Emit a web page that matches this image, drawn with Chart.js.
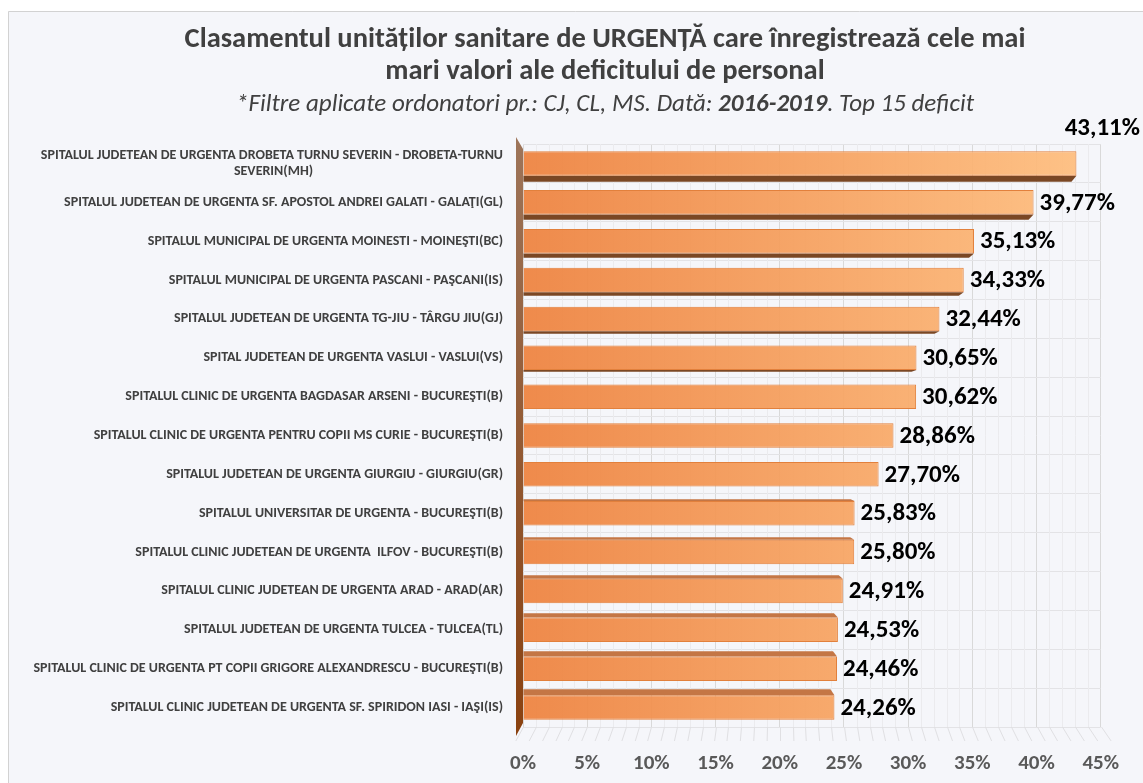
<!DOCTYPE html>
<html>
<head>
<meta charset="utf-8">
<script src="https://cdn.jsdelivr.net/npm/chart.js@4/dist/chart.umd.min.js"></script>
<style>
  html, body { margin: 0; padding: 0; background: #fff; overflow: hidden; }
  canvas { display: block; }
</style>
</head>
<body>
<canvas id="chart" width="1143" height="783"></canvas>
<script>
const hospitals = [
  ["SPITALUL JUDETEAN DE URGENTA DROBETA TURNU SEVERIN - DROBETA-TURNU", "SEVERIN(MH)"],
  "SPITALUL JUDETEAN DE URGENTA SF. APOSTOL ANDREI GALATI - GALAŢI(GL)",
  "SPITALUL MUNICIPAL DE URGENTA MOINESTI - MOINEŞTI(BC)",
  "SPITALUL MUNICIPAL DE URGENTA PASCANI - PAŞCANI(IS)",
  "SPITALUL JUDETEAN DE URGENTA TG-JIU - TÂRGU JIU(GJ)",
  "SPITAL JUDETEAN DE URGENTA VASLUI - VASLUI(VS)",
  "SPITALUL CLINIC DE URGENTA BAGDASAR ARSENI - BUCUREŞTI(B)",
  "SPITALUL CLINIC DE URGENTA PENTRU COPII MS CURIE - BUCUREŞTI(B)",
  "SPITALUL JUDETEAN DE URGENTA GIURGIU - GIURGIU(GR)",
  "SPITALUL UNIVERSITAR DE URGENTA - BUCUREŞTI(B)",
  "SPITALUL CLINIC JUDETEAN DE URGENTA  ILFOV - BUCUREŞTI(B)",
  "SPITALUL CLINIC JUDETEAN DE URGENTA ARAD - ARAD(AR)",
  "SPITALUL JUDETEAN DE URGENTA TULCEA - TULCEA(TL)",
  "SPITALUL CLINIC DE URGENTA PT COPII GRIGORE ALEXANDRESCU - BUCUREŞTI(B)",
  "SPITALUL CLINIC JUDETEAN DE URGENTA SF. SPIRIDON IASI - IAŞI(IS)"
];
const deficit = [43.11, 39.77, 35.13, 34.33, 32.44, 30.65, 30.62, 28.86, 27.70, 25.83, 25.80, 24.91, 24.53, 24.46, 24.26];
const xMin = 0, xMax = 45, xStep = 5;

const titleLines = [
  "Clasamentul unităților sanitare de URGENȚĂ care înregistrează cele mai",
  "mari valori ale deficitului de personal"
];
const subtitleParts = [
  ["*Filtre aplicate ordonatori pr.: CJ, CL, MS. Dată: ", false],
  ["2016-2019", true],
  [". Top 15 deficit", false]
];

const FONT = 'Carlito, Lato, "Open Sans", sans-serif';
const LABEL_FONT = "bold 14px " + FONT;

function pct(v) {
  return v.toFixed(2).replace(".", ",") + "%";
}

// wrapped labels: pad the shorter lines so they sit centred under the long one
const measure = document.createElement("canvas").getContext("2d");
function centerLines(label) {
  if (!Array.isArray(label)) return label;
  measure.font = LABEL_FONT;
  const widths = label.map((l) => measure.measureText(l).width);
  const max = Math.max(...widths);
  const sp = measure.measureText(" ").width;
  return label.map((l, i) => l + " ".repeat(Math.round((max - widths[i]) / 2 / sp)));
}

// frame, title and subtitle
const frame = {
  id: "frame",
  beforeDraw(chart) {
    const c = chart.ctx;
    c.save();
    c.fillStyle = "#fff";
    c.fillRect(0, 0, chart.width, chart.height);
    c.fillStyle = "#f5f6fa";
    c.fillRect(8, 11, chart.width - 8, chart.height - 11);
    c.strokeStyle = "#d2d2d2";
    c.lineWidth = 1;
    c.beginPath();
    c.moveTo(8.5, chart.height);
    c.lineTo(8.5, 11.5);
    c.lineTo(chart.width, 11.5);
    c.stroke();

    const cx = 605;
    c.fillStyle = "#404040";
    c.textAlign = "center";
    c.textBaseline = "middle";
    c.font = "bold 28.5px " + FONT;
    titleLines.forEach((t, i) => c.fillText(t, cx, 40 + i * 32));

    c.textAlign = "left";
    let total = 0;
    subtitleParts.forEach(([t, b]) => {
      c.font = "italic " + (b ? "bold " : "") + "25px " + FONT;
      total += c.measureText(t).width;
    });
    let x = cx - total / 2;
    subtitleParts.forEach(([t, b]) => {
      c.font = "italic " + (b ? "bold " : "") + "25px " + FONT;
      c.fillText(t, x, 105);
      x += c.measureText(t).width;
    });
    c.restore();
  }
};

// minor grid, floor, back wall and bar depth
const depth = {
  id: "depth",
  beforeDatasetsDraw(chart) {
    const c = chart.ctx;
    const a = chart.chartArea;
    const xs = chart.scales.x;
    c.save();
    c.lineWidth = 1;
    for (let v = xMin; v <= xMax; v++) {
      const px = Math.round(xs.getPixelForValue(v)) + 0.5;
      if (v % xStep !== 0) {
        c.strokeStyle = "#ebebee";
        c.beginPath();
        c.moveTo(px, a.top);
        c.lineTo(px, a.bottom);
        c.stroke();
      }
      // floor
      c.strokeStyle = "#e0e0e3";
      c.beginPath();
      c.moveTo(px, a.bottom);
      c.lineTo(px + (px - 780) * 0.03, a.bottom + 14);
      c.stroke();
    }
    // back wall on the left
    const L = a.left;
    const g = c.createLinearGradient(0, a.top, 0, a.bottom);
    g.addColorStop(0, "#9d7459");
    g.addColorStop(1, "#8a4211");
    c.fillStyle = g;
    c.beginPath();
    c.moveTo(L - 7, a.top - 7);
    c.lineTo(L, a.top + 5);
    c.lineTo(L, a.bottom - 4);
    c.lineTo(L - 7, a.bottom + 9);
    c.closePath();
    c.fill();

    // depth band of every bar
    const meta = chart.getDatasetMeta(0);
    const n = meta.data.length;
    meta.data.forEach((bar, i) => {
      const t = i / (n - 1);
      const d = 6 * (1 - 2 * t);
      const h = bar.height;
      const x0 = bar.base, x1 = bar.x;
      if (Math.abs(d) < 1) return;
      if (d > 0) {
        const yb = bar.y + h / 2;
        c.fillStyle = "#7a4724";
        c.beginPath();
        c.moveTo(x0, yb);
        c.lineTo(x1, yb);
        c.lineTo(x1 - 5, yb + d);
        c.lineTo(x0, yb + d);
        c.closePath();
        c.fill();
      } else {
        const yt = bar.y - h / 2;
        c.fillStyle = "#c47645";
        c.beginPath();
        c.moveTo(x0, yt);
        c.lineTo(x1, yt);
        c.lineTo(x1 - 4, yt + d);
        c.lineTo(x0, yt + d);
        c.closePath();
        c.fill();
      }
    });
    c.restore();
  },
  afterDatasetsDraw(chart) {
    const c = chart.ctx;
    const meta = chart.getDatasetMeta(0);
    c.save();
    c.font = "bold 25px " + FONT;
    c.fillStyle = "#000";
    c.textBaseline = "middle";
    meta.data.forEach((bar, i) => {
      const txt = pct(deficit[i]);
      const w = c.measureText(txt).width;
      let x = bar.x + 6, y = bar.y + 1;
      if (x + w > chart.width - 8) {
        c.textAlign = "right";
        x = chart.width - 3;
        y = bar.y - 35;
      } else {
        c.textAlign = "left";
      }
      c.fillText(txt, x, y);
    });
    c.restore();
  }
};

new Chart(document.getElementById("chart"), {
  type: "bar",
  data: {
    labels: hospitals,
    datasets: [{
      data: deficit,
      backgroundColor(ctx) {
        const a = ctx.chart.chartArea;
        if (!a) return "#f28c45";
        const g = ctx.chart.ctx.createLinearGradient(a.left, 0, a.right, 0);
        g.addColorStop(0, "rgba(238,130,62,0.93)");
        g.addColorStop(1, "rgba(255,192,128,0.93)");
        return g;
      },
      borderColor: "#e2803c",
      borderWidth: 1,
      barPercentage: 0.63,
      categoryPercentage: 1
    }]
  },
  options: {
    indexAxis: "y",
    responsive: false,
    animation: false,
    layout: { padding: { top: 144, right: 42, bottom: 0, left: 0 } },
    plugins: {
      legend: { display: false },
      title: { display: false },
      tooltip: { enabled: false }
    },
    scales: {
      x: {
        min: xMin,
        max: xMax,
        afterFit(axis) { axis.height = 56; },
        ticks: {
          stepSize: xStep,
          padding: 24,
          color: "#595959",
          font: { family: FONT, size: 21, weight: "bold" },
          callback: (v) => v + "%"
        },
        grid: { color: "#d9d9d9", drawTicks: false },
        border: { display: false }
      },
      y: {
        afterFit(axis) { axis.width = 523; },
        ticks: {
          padding: 20,
          color: "#404040",
          font: { family: FONT, size: 14, weight: "bold", lineHeight: 1.2 },
          autoSkip: false,
          callback(value, index) { return centerLines(hospitals[index]); }
        },
        grid: { color: "#e3e3e6", drawTicks: false, offset: true },
        border: { display: false }
      }
    }
  },
  plugins: [frame, depth]
});
</script>
</body>
</html>
